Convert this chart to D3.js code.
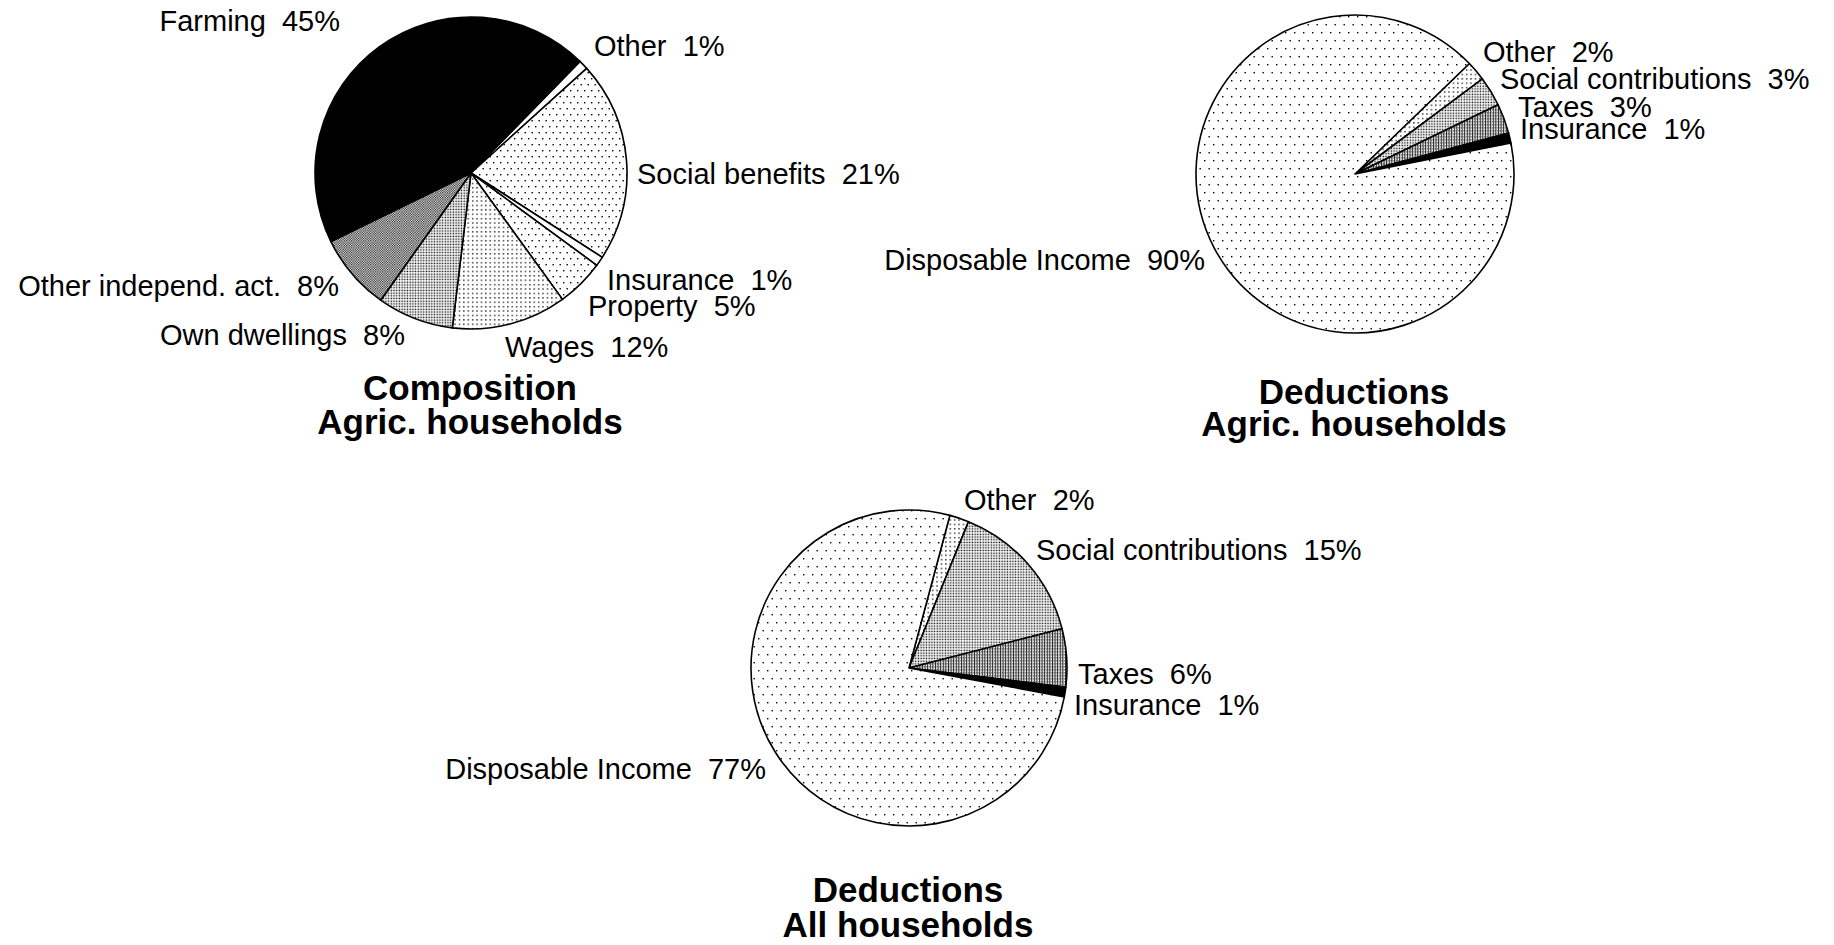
<!DOCTYPE html>
<html>
<head>
<meta charset="utf-8">
<script src="https://cdn.jsdelivr.net/npm/d3@7"></script>
<style>
  html, body { margin: 0; padding: 0; background: #fff; }
  svg { display: block; }
  text { font-family: "Liberation Sans", Arial, Helvetica, sans-serif; fill: #000; white-space: pre; }
  .lbl { font-size: 29px; }
  .ttl { font-size: 35px; font-weight: bold; }
</style>
</head>
<body>
<svg id="chart" width="1834" height="945"></svg>
<script>
// Income composition of agricultural households (percent)
const compCategories = ["Other", "Social benefits", "Insurance", "Property", "Wages",
                        "Own dwellings", "Other independ. act.", "Farming"];
const compValues = [1, 21, 1, 5, 12, 8, 8, 45];

// Deductions from income, agricultural households (percent)
const agricDedCategories = ["Other", "Social contributions", "Taxes", "Insurance", "Disposable Income"];
const agricDedValues = [2, 3, 3, 1, 90];

// Deductions from income, all households (percent)
const allDedCategories = ["Other", "Social contributions", "Taxes", "Insurance", "Disposable Income"];
const allDedValues = [2, 15, 6, 1, 77];

const svg = d3.select("#chart");
const defs = svg.append("defs");

// ---- fill textures ----
function dotPattern(id, w, h, dots, r, bg) {
  const p = defs.append("pattern").attr("id", id)
    .attr("patternUnits", "userSpaceOnUse").attr("width", w).attr("height", h);
  p.append("rect").attr("width", w).attr("height", h).attr("fill", bg || "#fff");
  dots.forEach(([x, y]) => p.append("rect")
    .attr("x", x).attr("y", y).attr("width", r).attr("height", r).attr("fill", "#000"));
}
// very sparse staggered dots
dotPattern("sparse", 9, 16, [[2, 2], [6.5, 10]], 1.4);
// sparse dots, a little tighter
dotPattern("light", 7, 12, [[1, 1], [4.5, 7]], 1.4);
// medium dots
dotPattern("medium", 4.4, 4.4, [[1, 1]], 1.3);
// fine dense dots
dotPattern("fine", 2.7, 2.7, [[0.6, 0.6]], 1.4);
// dark stipple
dotPattern("dark", 2.4, 2.4, [[0, 0], [1.2, 1.2]], 1.15, "#fff");
// vertical hatch for taxes
(function () {
  const p = defs.append("pattern").attr("id", "vhatch")
    .attr("patternUnits", "userSpaceOnUse").attr("width", 2.6).attr("height", 3);
  p.append("rect").attr("width", 2.6).attr("height", 3).attr("fill", "#fff");
  p.append("rect").attr("x", 0).attr("y", 0).attr("width", 1.1).attr("height", 3).attr("fill", "#222");
  p.append("rect").attr("x", 1.7).attr("y", 1.5).attr("width", 0.8).attr("height", 0.8).attr("fill", "#000");
})();

const compFill = {
  "Other": "#fff", "Social benefits": "url(#light)", "Insurance": "#fff",
  "Property": "url(#light)", "Wages": "url(#medium)", "Own dwellings": "url(#fine)",
  "Other independ. act.": "url(#dark)", "Farming": "#000"
};
const dedFill = {
  "Other": "url(#medium)", "Social contributions": "url(#fine)", "Taxes": "url(#vhatch)",
  "Insurance": "#000", "Disposable Income": "url(#sparse)"
};

// ---- layout of the three pies ----
const deg = Math.PI / 180;
const pies = [
  {
    cats: compCategories, vals: compValues, fill: compFill,
    cx: 471, cy: 173, r: 156, start: 44.3,
    title: ["Composition", "Agric. households"], tx: 470, ty: [400, 434],
    labels: {
      "Farming": [340, 31, "end"],
      "Other": [594, 56, "start"],
      "Social benefits": [637, 184, "start"],
      "Insurance": [607, 290, "start"],
      "Property": [588, 316, "start"],
      "Wages": [505, 357, "start"],
      "Own dwellings": [405, 345, "end"],
      "Other independ. act.": [339, 296, "end"]
    }
  },
  {
    cats: agricDedCategories, vals: agricDedValues, fill: dedFill,
    cx: 1355, cy: 174, r: 159, start: 46,
    title: ["Deductions", "Agric. households"], tx: 1354, ty: [404, 436],
    labels: {
      "Other": [1483, 62, "start"],
      "Social contributions": [1500, 89, "start"],
      "Taxes": [1518, 117, "start"],
      "Insurance": [1520, 139, "start"],
      "Disposable Income": [1205, 270, "end"]
    }
  },
  {
    cats: allDedCategories, vals: allDedValues, fill: dedFill,
    cx: 909, cy: 668, r: 158, start: 15,
    title: ["Deductions", "All households"], tx: 908, ty: [902, 937],
    labels: {
      "Other": [964, 510, "start"],
      "Social contributions": [1036, 560, "start"],
      "Taxes": [1078, 684, "start"],
      "Insurance": [1074, 715, "start"],
      "Disposable Income": [766, 779, "end"]
    }
  }
];

pies.forEach(cfg => {
  const data = cfg.cats.map((c, i) => ({ cat: c, value: cfg.vals[i] }));
  const pie = d3.pie().sort(null).value(d => d.value)
    .startAngle(cfg.start * deg).endAngle(cfg.start * deg + 2 * Math.PI);
  const arc = d3.arc().innerRadius(0).outerRadius(cfg.r);
  const g = svg.append("g").attr("transform", `translate(${cfg.cx},${cfg.cy})`);

  g.selectAll("path.slice").data(pie(data)).join("path")
    .attr("class", "slice")
    .attr("d", arc)
    .attr("fill", d => cfg.fill[d.data.cat])
    .attr("stroke", "#000")
    .attr("stroke-width", 1.6)
    .attr("stroke-linejoin", "round");

  svg.append("g").selectAll("text").data(data).join("text")
    .attr("class", "lbl")
    .attr("x", d => cfg.labels[d.cat][0])
    .attr("y", d => cfg.labels[d.cat][1])
    .attr("text-anchor", d => cfg.labels[d.cat][2])
    .text(d => `${d.cat}  ${d.value}%`);

  svg.append("g").selectAll("text").data(cfg.title).join("text")
    .attr("class", "ttl")
    .attr("x", cfg.tx)
    .attr("y", (d, i) => cfg.ty[i])
    .attr("text-anchor", "middle")
    .text(d => d);
});
</script>
</body>
</html>
